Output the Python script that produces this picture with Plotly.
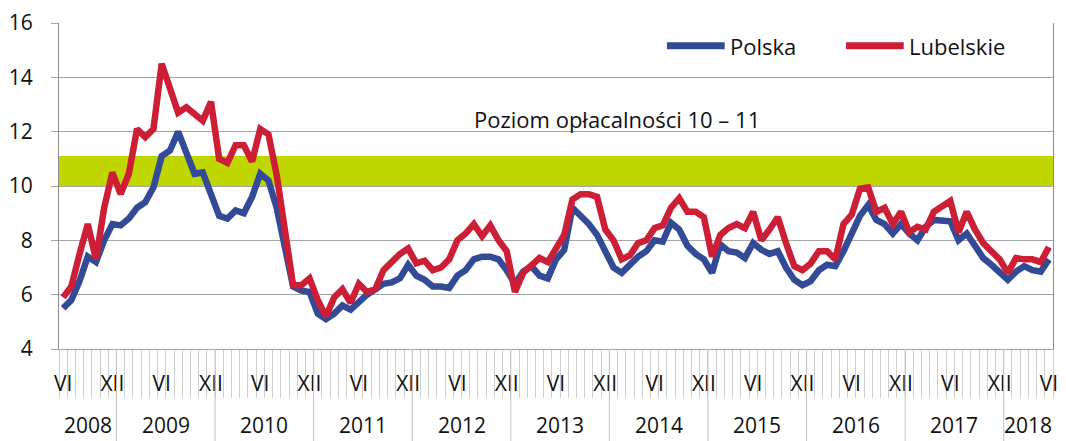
import plotly.graph_objects as go

# ---- data (monthly, VI 2008 .. VI 2018) ----
start_year = 2008
start_month = 6
polska = [5.5, 5.8, 6.5, 7.4, 7.2, 8.0, 8.6, 8.55, 8.8, 9.2, 9.4, 9.95,
          11.1, 11.3, 12.0, 11.2, 10.45, 10.5, 9.7, 8.9, 8.8, 9.1, 9.0, 9.6,
          10.45, 10.2, 9.2, 7.6, 6.3, 6.15, 6.1, 5.3, 5.1, 5.3, 5.6, 5.45,
          5.75, 6.0, 6.2, 6.4, 6.45, 6.6, 7.1, 6.7, 6.55, 6.3, 6.3, 6.25,
          6.7, 6.9, 7.3, 7.4, 7.4, 7.3, 6.9, 6.4, 6.85, 7.05, 6.7, 6.6,
          7.3, 7.65, 9.2, 8.9, 8.6, 8.2, 7.65, 7.0, 6.8, 7.1, 7.4, 7.6,
          8.0, 7.95, 8.65, 8.4, 7.8, 7.5, 7.3, 6.8, 7.85, 7.6, 7.55, 7.35,
          7.9, 7.65, 7.5, 7.6, 7.0, 6.55, 6.35, 6.5, 6.9, 7.1, 7.05, 7.6,
          8.25, 8.9, 9.3, 8.75, 8.6, 8.25, 8.6, 8.25, 8.0, 8.5, 8.75, 8.7,
          8.7, 8.0, 8.25, 7.8, 7.35, 7.1, 6.85, 6.55, 6.85, 7.05, 6.9, 6.85,
          7.3]
lubelskie = [5.9, 6.3, 7.5, 8.6, 7.3, 9.2, 10.5, 9.7, 10.45, 12.1, 11.8, 12.1,
             14.5, 13.6, 12.7, 12.9, 12.65, 12.4, 13.1, 11.0, 10.85, 11.5, 11.5, 10.9,
             12.1, 11.9, 10.4, 8.2, 6.35, 6.35, 6.6, 5.8, 5.2, 5.9, 6.2, 5.7,
             6.4, 6.1, 6.2, 6.9, 7.2, 7.5, 7.7, 7.15, 7.25, 6.9, 7.0, 7.3,
             8.0, 8.25, 8.6, 8.15, 8.55, 8.0, 7.6, 6.1, 6.8, 7.1, 7.35, 7.2,
             7.65, 8.2, 9.5, 9.7, 9.7, 9.6, 8.4, 8.0, 7.3, 7.45, 7.9, 8.0,
             8.45, 8.55, 9.2, 9.55, 9.05, 9.05, 8.85, 7.4, 8.2, 8.45, 8.6, 8.45,
             9.05, 8.0, 8.4, 8.85, 7.9, 7.05, 6.9, 7.15, 7.6, 7.6, 7.3, 8.6,
             8.95, 9.9, 9.95, 9.05, 9.2, 8.6, 9.05, 8.3, 8.5, 8.4, 9.05, 9.25,
             9.45, 8.3, 9.05, 8.4, 7.9, 7.6, 7.3, 6.8, 7.35, 7.3, 7.3, 7.2,
             7.75]
band_low = 10
band_high = 11.1
band_label = "Poziom opłacalności 10 – 11"
series_names = ["Polska", "Lubelskie"]
series_colors = ["#334b96", "#cc1f36"]
month_marks = {6: "VI", 12: "XII"}
y_ticks = [4, 6, 8, 10, 12, 14, 16]

FONT = "Open Sans"
n = len(polska)
x = list(range(n))
months = [((start_month - 1 + i) % 12) + 1 for i in x]
years = [start_year + (start_month - 1 + i) // 12 for i in x]

fig = go.Figure()
for name, vals, col in zip(series_names, [polska, lubelskie], series_colors):
    fig.add_trace(go.Scatter(x=x, y=vals, name=name, mode="lines",
                             line=dict(color=col, width=6.5), showlegend=False,
                             hoverinfo="skip"))

# profitability band
fig.add_shape(type="rect", xref="paper", x0=0, x1=1, yref="y", y0=band_low, y1=band_high,
              fillcolor="#bfd600", line=dict(width=0), layer="below")
fig.add_annotation(text=band_label, xref="paper", x=0.4154, xanchor="left",
                   yref="y", y=12.48, yanchor="middle", showarrow=False,
                   font=dict(family=FONT, size=22, color="#111"))

# legend (swatch + label) in the top-right corner
legend_y = 0.93
legend_items = [(0.6116, 0.6697, 0.6727), (0.7918, 0.8498, 0.8529)]  # swatch x0, x1, text x
for (sx0, sx1, tx), name, col in zip(legend_items, series_names, series_colors):
    fig.add_shape(type="line", xref="paper", yref="paper", x0=sx0, x1=sx1,
                  y0=legend_y, y1=legend_y, line=dict(color=col, width=7))
    fig.add_annotation(text=name, xref="paper", yref="paper", x=tx, y=legend_y,
                       xanchor="left", yanchor="middle", showarrow=False,
                       font=dict(family=FONT, size=22, color="#111"))

# month tick labels
tickvals = [i for i in x if months[i] in month_marks]
ticktext = [month_marks[months[i]] for i in tickvals]
boundaries = [i - 0.5 for i in range(n + 1)]

# year labels and separators
uniq_years = sorted(set(years))
for yr in uniq_years:
    idx = [i for i in x if years[i] == yr]
    center = (idx[0] + idx[-1]) / 2
    fig.add_annotation(text=str(yr), xref="x", x=center, yref="paper", y=-0.232,
                       yanchor="middle", showarrow=False,
                       font=dict(family=FONT, size=21, color="#111"))
    if idx[-1] < n - 1:
        fig.add_shape(type="line", xref="x", x0=idx[-1] + 0.5, x1=idx[-1] + 0.5,
                      yref="paper", y0=0, y1=-0.29,
                      line=dict(color="#c4c4c4", width=1))

fig.update_layout(
    width=1066, height=441,
    margin=dict(l=59, r=8, t=22, b=92),
    paper_bgcolor="white", plot_bgcolor="white",
    font=dict(family=FONT, size=21, color="#111"),
    showlegend=False,
    hovermode=False,
)
fig.update_xaxes(range=[-0.5, n - 0.5], tickmode="array", tickvals=tickvals, ticktext=ticktext,
                 ticks="", showgrid=False, showline=True, linecolor="#a6a6a6", linewidth=1,
                 ticklabelstandoff=16, tickfont=dict(family=FONT, size=21, color="#111"),
                 minor=dict(tickmode="array", tickvals=boundaries, ticks="outside", ticklen=48,
                            tickcolor="#cfcfcf", tickwidth=1, showgrid=False),
                 zeroline=False)
fig.update_yaxes(range=[4, 16], tickmode="array", tickvals=y_ticks, ticks="outside", ticklen=7,
                 tickcolor="#a6a6a6", showgrid=True, gridcolor="#a6a6a6", gridwidth=1,
                 showline=True, linecolor="#8c8c8c", linewidth=1, mirror=True,
                 ticklabelstandoff=14, tickfont=dict(family=FONT, size=21, color="#111"),
                 zeroline=False)

fig.write_html("out.html", config={"displayModeBar": False},
               post_script="document.body.style.margin='0';document.body.style.padding='0';")
